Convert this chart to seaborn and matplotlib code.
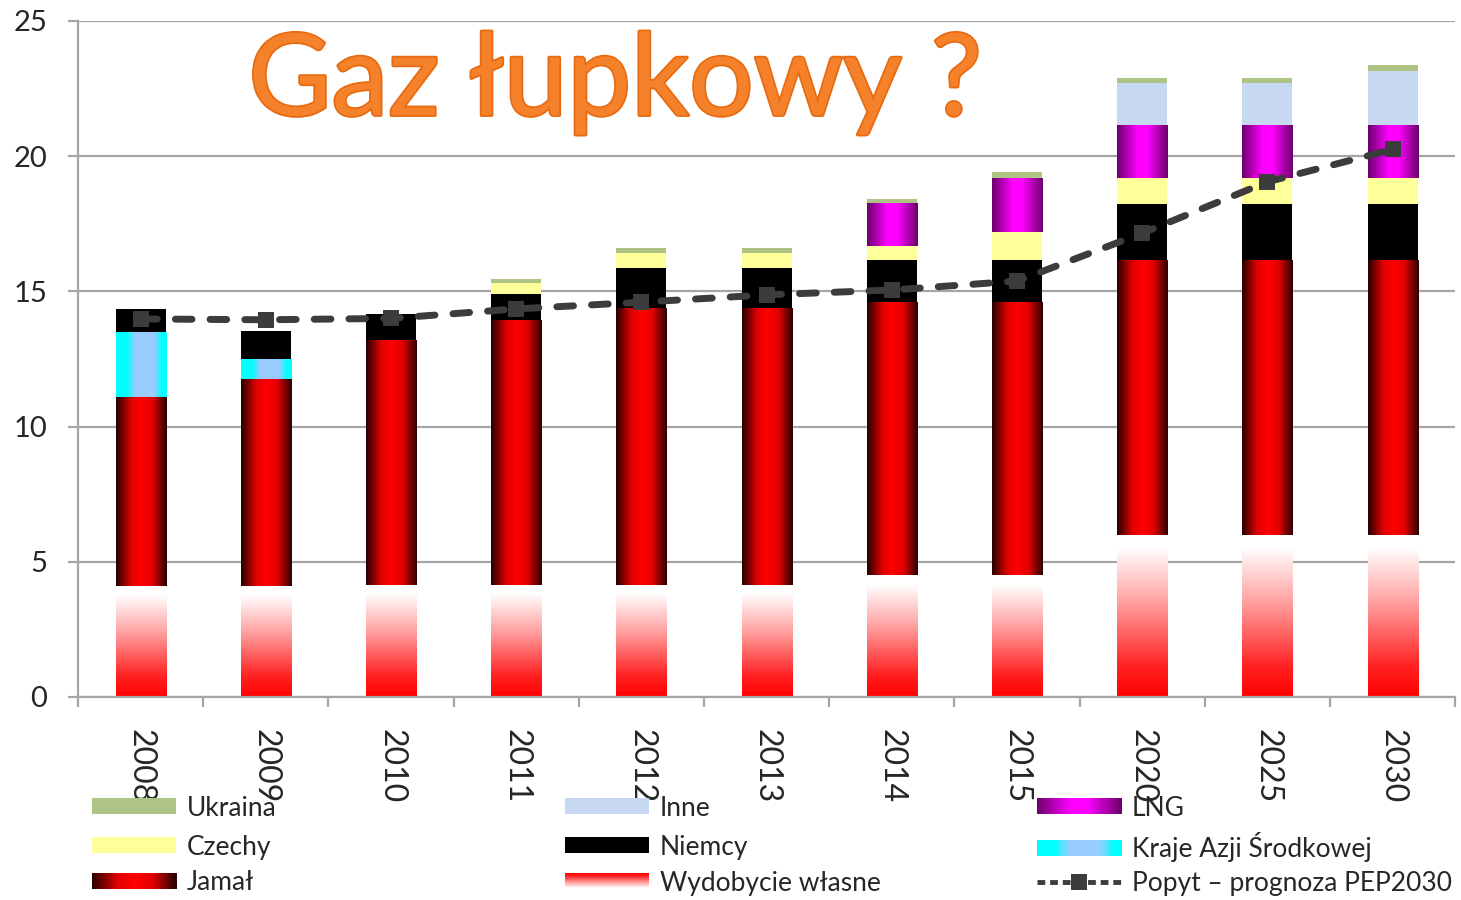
"""
Stacked gas supply bars (PL, bcm) with projected demand line.
"""

import numpy as np
import matplotlib
matplotlib.use('Agg')
import matplotlib.pyplot as plt
import matplotlib.patheffects as pe
from matplotlib.colors import LinearSegmentedColormap
from matplotlib.legend_handler import HandlerBase
from matplotlib.patches import Rectangle
from matplotlib.lines import Line2D
import seaborn as sns


# Data (bcm)
years = ['2008', '2009', '2010', '2011', '2012', '2013', '2014', '2015', '2020', '2025', '2030']
wydobycie = [4.1, 4.1, 4.15, 4.15, 4.15, 4.15, 4.5, 4.5, 6.0, 6.0, 6.0]
jamal = [7.0, 7.65, 9.05, 9.8, 10.25, 10.25, 10.1, 10.1, 10.15, 10.15, 10.15]
kraje_azji = [2.4, 0.75, 0, 0, 0, 0, 0, 0, 0, 0, 0]
niemcy = [0.85, 1.03, 0.95, 0.95, 1.48, 1.48, 1.56, 1.56, 2.07, 2.07, 2.07]
czechy = [0, 0, 0, 0.4, 0.53, 0.53, 0.52, 1.04, 0.97, 0.97, 0.97]
lng = [0, 0, 0, 0, 0, 0, 1.6, 2.0, 1.95, 1.95, 1.95]
inne = [0, 0, 0, 0, 0, 0, 0, 0, 1.55, 1.55, 2.0]
ukraina = [0, 0, 0, 0.16, 0.2, 0.2, 0.13, 0.2, 0.2, 0.2, 0.22]
popyt = [13.98, 13.95, 14.0, 14.35, 14.6, 14.87, 15.05, 15.38, 17.15, 19.05, 20.25]

# Colours
JAMAL_CMAP = LinearSegmentedColormap.from_list(
    'jamal', [(0, '#250000'), (0.3, '#e00000'), (0.5, '#ff0000'), (0.72, '#e00000'), (1, '#2a0000')])
WYD_CMAP = LinearSegmentedColormap.from_list(
    'wyd', [(0, '#ff0000'), (0.18, '#ff2020'), (0.58, '#ffa0a0'), (0.92, '#ffffff'), (1, '#ffffff')])
LNG_CMAP = LinearSegmentedColormap.from_list(
    'lng', [(0, '#6a006a'), (0.4, '#ff00ff'), (0.6, '#ff00ff'), (1, '#6a006a')])
AZJA_CMAP = LinearSegmentedColormap.from_list(
    'azja', [(0, '#00ffff'), (0.22, '#00ffff'), (0.38, '#99ccff'), (0.75, '#99ccff'), (0.9, '#00ffff'), (1, '#00ffff')])
NIEMCY_COLOR = '#000000'
CZECHY_COLOR = '#ffff99'
INNE_COLOR = '#c6d9f1'
UKRAINA_COLOR = '#adc485'
POPYT_COLOR = '#3c3c3c'
GRID_COLOR = '#a6a6a6'
TEXT_COLOR = '#262626'

BAR_W = 0.4


def gradient_bars(ax, bars, cmap, vertical=False):
    """Replace the flat fill of each bar with a gradient image clipped to it."""
    ramp = np.linspace(0, 1, 256)
    img = ramp.reshape(-1, 1) if vertical else ramp.reshape(1, -1)
    for bar in bars:
        h = bar.get_height()
        if h <= 0:
            continue
        x, y, w = bar.get_x(), bar.get_y(), bar.get_width()
        im = ax.imshow(img, cmap=cmap, extent=(x, x + w, y, y + h), origin='lower',
                       aspect='auto', interpolation='bilinear', zorder=2)
        im.set_clip_path(bar)
        bar.set_facecolor('none')


class GradientHandler(HandlerBase):
    def __init__(self, cmap, vertical=False, n=40):
        super().__init__()
        self.cmap = cmap
        self.vertical = vertical
        self.n = n

    def create_artists(self, legend, orig_handle, xdescent, ydescent,
                       width, height, fontsize, trans):
        arts = []
        for i in range(self.n):
            c = self.cmap((i + 0.5) / self.n)
            if self.vertical:
                r = Rectangle((-xdescent, -ydescent + i * height / self.n), width,
                              height / self.n * 1.3, facecolor=c, edgecolor='none',
                              linewidth=0, transform=trans)
            else:
                r = Rectangle((-xdescent + i * width / self.n, -ydescent),
                              width / self.n * 1.3, height, facecolor=c, edgecolor='none',
                              linewidth=0, transform=trans)
            arts.append(r)
        return arts


sns.set_theme(style='white')
plt.rcParams['font.family'] = ['Lato', 'DejaVu Sans']

fig = plt.figure(figsize=(14.61, 9), dpi=100)
ax = fig.add_axes([0.0534, 0.2256, 0.9426, 0.7511])

x = np.arange(len(years))
layers = [
    ('wyd', wydobycie, None),
    ('jamal', jamal, None),
    ('azja', kraje_azji, None),
    ('niemcy', niemcy, NIEMCY_COLOR),
    ('czechy', czechy, CZECHY_COLOR),
    ('lng', lng, None),
    ('inne', inne, INNE_COLOR),
    ('ukraina', ukraina, UKRAINA_COLOR),
]

bottom = np.zeros(len(years))
bar_sets = {}
for name, vals, color in layers:
    vals = np.asarray(vals, dtype=float)
    bars = ax.bar(x, vals, BAR_W, bottom=bottom, color=color or 'white',
                  linewidth=0, zorder=2)
    bar_sets[name] = bars
    bottom = bottom + vals

gradient_bars(ax, bar_sets['wyd'], WYD_CMAP, vertical=True)
gradient_bars(ax, bar_sets['jamal'], JAMAL_CMAP)
gradient_bars(ax, bar_sets['azja'], AZJA_CMAP)
gradient_bars(ax, bar_sets['lng'], LNG_CMAP)

# Demand forecast line
sns.lineplot(x=x, y=popyt, ax=ax, color=POPYT_COLOR, linewidth=5,
             linestyle=(0, (2.4, 2.6)), dash_capstyle='round',
             marker='s', markersize=12, markeredgewidth=0, zorder=4, legend=False)

# Axes styling
ax.set_xlim(-0.5, len(years) - 0.5)
ax.set_ylim(0, 25)
ax.set_yticks([0, 5, 10, 15, 20, 25])
ax.set_xticks(x)
ax.set_xticklabels(years, rotation=-90, va='top', ha='center')
ax.set_xticks(np.arange(-0.5, len(years)), minor=True)
ax.yaxis.grid(True, color=GRID_COLOR, linewidth=1.6)
ax.xaxis.grid(False)
ax.set_axisbelow(True)
for side in ('top', 'right'):
    ax.spines[side].set_visible(False)
for side in ('left', 'bottom'):
    ax.spines[side].set_color(GRID_COLOR)
    ax.spines[side].set_linewidth(1.6)
ax.tick_params(axis='y', left=True, length=7, width=1.6, color=GRID_COLOR,
               pad=15, labelsize=21, labelcolor=TEXT_COLOR)
ax.tick_params(axis='x', which='major', length=0, pad=23, labelsize=23, labelcolor=TEXT_COLOR)
ax.tick_params(axis='x', which='minor', bottom=True, length=7, width=1.6, color=GRID_COLOR)

# Title
fig.text(0.421, 0.872, 'Gaz łupkowy ?', fontsize=82, color='#f5822a', ha='center',
         va='baseline', fontfamily=['Lato', 'DejaVu Sans'],
         path_effects=[pe.withStroke(linewidth=2.5, foreground='#e86a10')])

# Legend: one entry per legend box so every row lines up exactly
flat = lambda c: Rectangle((0, 0), 1, 1, facecolor=c, edgecolor='none')
h_jamal, h_wyd, h_lng, h_azja = [Rectangle((0, 0), 1, 1) for _ in range(4)]
h_popyt = Line2D([], [], color=POPYT_COLOR, linewidth=3.5, linestyle=(0, (1.6, 1.0)),
                 marker='s', markersize=11, markeredgewidth=0)
handler_map = {
    h_jamal: GradientHandler(JAMAL_CMAP),
    h_wyd: GradientHandler(WYD_CMAP.reversed(), vertical=True),
    h_lng: GradientHandler(LNG_CMAP),
    h_azja: GradientHandler(AZJA_CMAP),
}
col_x = [92, 565, 1037]
row_y = [808, 847, 883]
entries = [
    [(flat(UKRAINA_COLOR), 'Ukraina'), (flat(CZECHY_COLOR), 'Czechy'), (h_jamal, 'Jamał')],
    [(flat(INNE_COLOR), 'Inne'), (flat(NIEMCY_COLOR), 'Niemcy'), (h_wyd, 'Wydobycie własne')],
    [(h_lng, 'LNG'), (h_azja, 'Kraje Azji Środkowej'), (h_popyt, 'Popyt – prognoza PEP2030')],
]
for px, col in zip(col_x, entries):
    for py, (handle, label) in zip(row_y, col):
        leg = fig.legend([handle], [label], loc='center left',
                         bbox_to_anchor=(px / 1461, 1 - py / 900),
                         frameon=False, borderpad=0, borderaxespad=0,
                         handlelength=3.2, handleheight=0.55, handletextpad=0.4,
                         handler_map=handler_map,
                         prop={'family': ['Lato', 'DejaVu Sans'], 'size': 19})
        for t in leg.get_texts():
            t.set_color(TEXT_COLOR)

fig.savefig('out.png', dpi=100, facecolor='white')
